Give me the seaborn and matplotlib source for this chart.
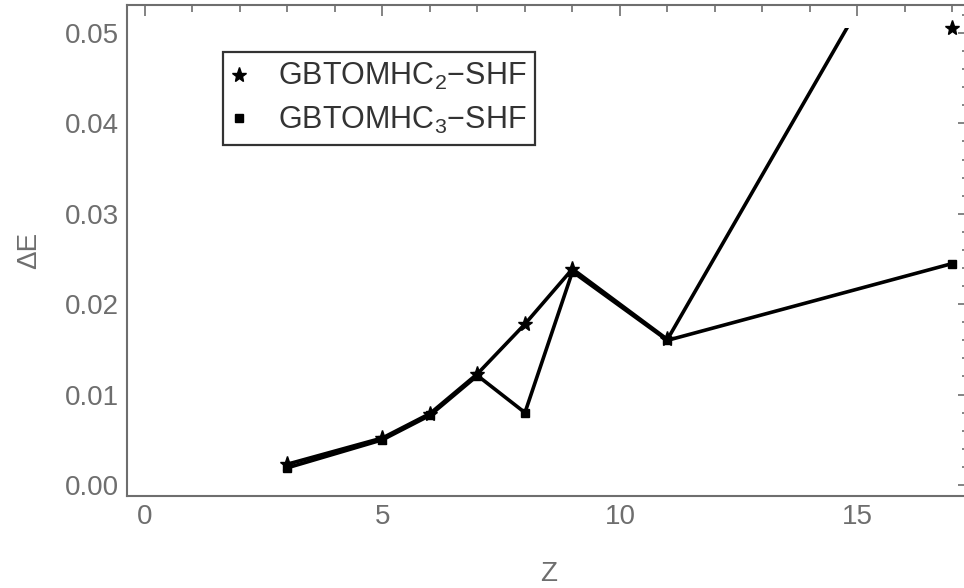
import numpy as np
import pandas as pd
import matplotlib
matplotlib.use("Agg")
import matplotlib.pyplot as plt
import seaborn as sns
from matplotlib.lines import Line2D
from matplotlib.patches import Rectangle
from matplotlib.ticker import MultipleLocator

# values
z = [3, 5, 6, 7, 8, 9, 11, 17]
de_c2 = [0.0023, 0.0052, 0.0079, 0.0123, 0.0178, 0.0239, 0.0161, 0.0708]
de_c3 = [0.0019, 0.0050, 0.0077, 0.0121, 0.0080, 0.0236, 0.0160, 0.0245]
series_names = [r"GBTOMHC$_{\mathregular{2}}$−SHF", r"GBTOMHC$_{\mathregular{3}}$−SHF"]
series_markers = ["*", "s"]
series_msize = [11, 6]

plot_top = 0.0505  # Mathematica PlotRange cut
xlim = (-0.38, 17.36)
ylim = (-0.00122, 0.0531)

sns.set_style("white")
plt.rcParams["font.family"] = ["Liberation Sans", "DejaVu Sans"]
plt.rcParams["mathtext.fontset"] = "custom"
plt.rcParams["mathtext.rm"] = "Liberation Sans"

grey = "#6e6e6e"
fig = plt.figure(figsize=(9.64, 5.88), dpi=100)
ax = fig.add_axes([0.1317, 0.1565, 0.874, 0.835])
ax.set_xlim(*xlim)
ax.set_ylim(*ylim)

clip = Rectangle((xlim[0], ylim[0]), xlim[1] - xlim[0], plot_top - ylim[0],
                 transform=ax.transData, visible=False)
ax.add_patch(clip)

df = pd.DataFrame({"Z": z * 2,
                   "dE": de_c2 + de_c3,
                   "series": [series_names[0]] * len(z) + [series_names[1]] * len(z)})

for name, mk, ms in zip(series_names, series_markers, series_msize):
    sub = df[df["series"] == name]
    n0 = len(ax.lines)
    sns.lineplot(data=sub, x="Z", y="dE", sort=False, color="black",
                 linewidth=2.6, ax=ax, legend=False)
    for ln in ax.lines[n0:]:
        ln.set_clip_path(clip)
    # points beyond the plot range sit on its edge, as in the original
    ax.plot(sub["Z"], np.minimum(sub["dE"], plot_top), linestyle="none",
            marker=mk, markersize=ms, color="black", zorder=3, clip_on=False)

ax.xaxis.set_major_locator(MultipleLocator(5))
ax.xaxis.set_minor_locator(MultipleLocator(1))
ax.yaxis.set_major_locator(MultipleLocator(0.01))
ax.yaxis.set_minor_locator(MultipleLocator(0.002))
ax.yaxis.set_major_formatter(matplotlib.ticker.FormatStrFormatter("%.2f"))
ax.tick_params(which="both", direction="in", top=True, right=True,
               color=grey, labelcolor=grey, labelsize=20, width=1.2, pad=6)
ax.tick_params(which="major", length=8)
ax.tick_params(which="minor", length=5)
for sp in ax.spines.values():
    sp.set_color(grey)
    sp.set_linewidth(1.5)

ax.set_xlabel("Z", fontsize=20, color=grey, labelpad=22)
ax.set_ylabel("ΔE", fontsize=20, color=grey, labelpad=16)

handles = [Line2D([], [], linestyle="none", marker=m, markersize=s, color="black")
           for m, s in zip(series_markers, series_msize)]
leg = ax.legend(handles, series_names, loc="upper left",
                bbox_to_anchor=(0.1135, 0.904), borderaxespad=0, fontsize=22,
                frameon=True, fancybox=False, handlelength=0.5,
                handletextpad=1.0, borderpad=0.3, labelspacing=0.4)
leg.get_frame().set_edgecolor("black")
leg.get_frame().set_linewidth(1.6)
for t in leg.get_texts():
    t.set_color("#333333")

fig.savefig("out.png", dpi=100)
